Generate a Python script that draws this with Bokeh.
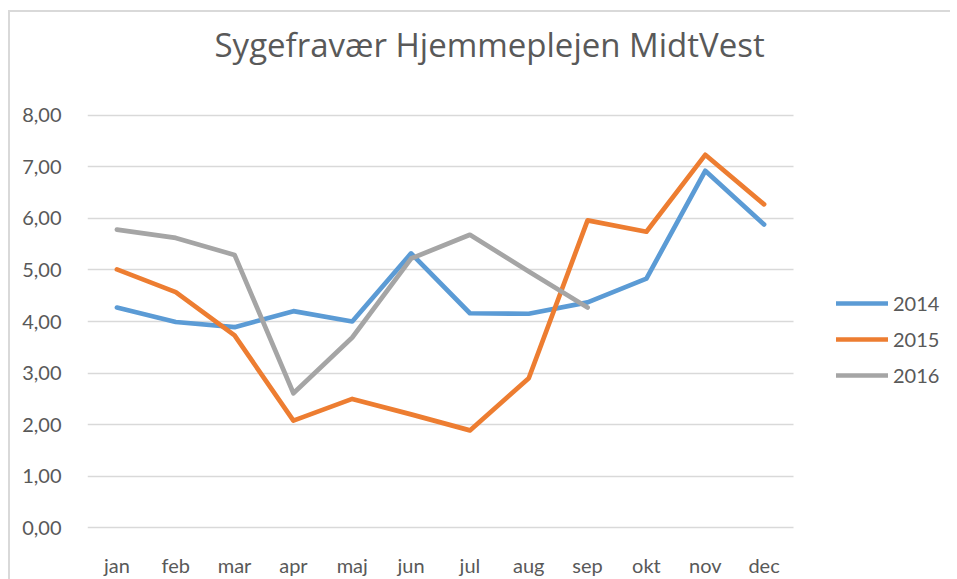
from bokeh.plotting import figure
from bokeh.models import Legend, LegendItem, FixedTicker, Range1d, Title, BoxAnnotation
from bokeh.embed import file_html
from bokeh.resources import INLINE

title_text = "Sygefravær Hjemmeplejen MidtVest"
months = ["jan", "feb", "mar", "apr", "maj", "jun", "jul", "aug", "sep", "okt", "nov", "dec"]
s2014 = [4.27, 3.99, 3.89, 4.20, 4.00, 5.32, 4.16, 4.15, 4.37, 4.83, 6.92, 5.88]
s2015 = [5.01, 4.57, 3.73, 2.08, 2.50, 2.20, 1.89, 2.90, 5.96, 5.74, 7.23, 6.27]
s2016 = [5.78, 5.62, 5.29, 2.61, 3.69, 5.22, 5.68, 4.97, 4.27]
series_names = ["2014", "2015", "2016"]
y_ticks = [0, 1, 2, 3, 4, 5, 6, 7, 8]
y_tick_labels = ["0,00", "1,00", "2,00", "3,00", "4,00", "5,00", "6,00", "7,00", "8,00"]

colors = ["#5B9BD5", "#ED7D31", "#A5A5A5"]
FONT = "Lato"
TXT = "#595959"
FS = "20px"

# month slots: category i occupies [i, i+1] on the x scale, point at centre
n_cat = len(months)
x_centres = [i + 0.5 for i in range(n_cat)]

W, H = 950, 579
LEFT, TOP, BOTTOM = 87, 112, 48
PLOT_W = 706  # width of the category area in px
frame_w = W - LEFT
x_end = n_cat * frame_w / PLOT_W

p = figure(
    x_range=Range1d(0, x_end),
    y_range=Range1d(-0.05, 8.05),
    width=W, height=H,
    output_backend="svg", toolbar_location=None,
    min_border_left=LEFT, min_border_right=0,
    min_border_top=TOP, min_border_bottom=BOTTOM,
)
p.styles = {
    "background": ("linear-gradient(#d9d9d9,#d9d9d9) 8px 10px / 2px 100% no-repeat, "
                   "linear-gradient(#d9d9d9,#d9d9d9) 8px 10px / 100% 2px no-repeat"),
}
p.outline_line_color = None
p.background_fill_color = "white"
p.border_fill_color = None

p.xgrid.grid_line_color = None
p.ygrid.grid_line_color = "#d9d9d9"
p.ygrid.grid_line_width = 1.3
yg = p.ygrid[0]
if "cross_bounds" in yg.properties():
    yg.cross_bounds = (0, n_cat)
else:
    p.add_layout(BoxAnnotation(left=n_cat, fill_color="white", fill_alpha=1,
                               line_color=None, level="underlay"))

for ax in (p.xaxis[0], p.yaxis[0]):
    ax.axis_line_color = None
    ax.major_tick_line_color = None
    ax.minor_tick_line_color = None
    ax.major_label_text_font = FONT
    ax.major_label_text_font_size = FS
    ax.major_label_text_color = TXT

p.yaxis[0].ticker = FixedTicker(ticks=y_ticks)
p.yaxis[0].major_label_overrides = {t: l for t, l in zip(y_ticks, y_tick_labels)}
p.yaxis[0].major_label_standoff = 20
p.xaxis[0].ticker = FixedTicker(ticks=x_centres)
p.xaxis[0].major_label_overrides = {x: m for x, m in zip(x_centres, months)}
p.xaxis[0].major_label_standoff = 16

# spacer between the frame and the title
p.add_layout(Title(text=" ", text_font_size="1px", standoff=38), "above")

p.title.text = title_text
p.title.align = "left"
p.title.offset = 127
p.title.text_font = "Open Sans"
p.title.text_font_size = "33px"
p.title.text_font_style = "normal"
p.title.text_color = TXT
p.title.standoff = 10

renderers = []
for name, data, c in zip(series_names, [s2014, s2015, s2016], colors):
    r = p.line(x_centres[:len(data)], data, line_width=4.7, line_color=c,
               line_cap="round", line_join="round")
    renderers.append(r)

legend = Legend(
    items=[LegendItem(label=n, renderers=[r]) for n, r in zip(series_names, renderers)],
    location=(749, 140),
    padding=0, margin=0, spacing=6,
    glyph_width=52, glyph_height=30, label_height=30,
    label_standoff=5,
    label_text_font=FONT, label_text_font_size=FS, label_text_color=TXT,
    border_line_color=None, background_fill_alpha=0,
)
p.add_layout(legend, "center")

open("out.html", "w").write(file_html(p, INLINE))
